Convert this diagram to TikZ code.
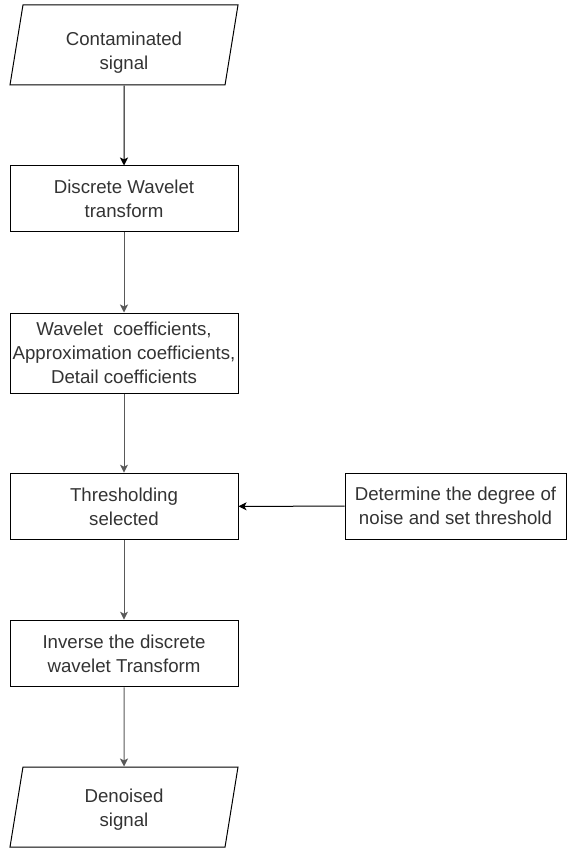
\documentclass[tikz,border=0pt]{standalone}
\usepackage{fontspec}
\setmainfont{Liberation Sans}
\usetikzlibrary{shapes.geometric,arrows.meta}

\tikzset{
	boxtext/.style={inner sep=0pt, align=center, text=black!80, font=\fontsize{14}{18}\selectfont},
	procbox/.style={boxtext, draw, line width=0.75pt, minimum width=171pt},
	iobox/.style={procbox, trapezium, trapezium left angle=72.6, trapezium right angle=107.4, trapezium stretches body, minimum height=60pt},
	flow/.style={line width=0.75pt, -{Stealth[length=6pt,width=6pt,inset=1.5pt]}},
}

\begin{document}
\begin{tikzpicture}[x=0.75pt,y=0.75pt,yscale=-1,xscale=1]
	\useasboundingbox (0,0) rectangle (567,848);
	
	%Shape: Parallelogram [id:in] 
	\node [iobox] (in) at (124,45) {\phantom{Contaminated}\\\phantom{signal}};
	% Text Node
	\node [boxtext] (intext) at (124,53) {Contaminated\\signal};
	%Shape: Rectangle [id:dwt] 
	\node [procbox, minimum height=49.5pt] (dwt) at (124,199) {Discrete Wavelet\\transform};
	%Shape: Rectangle [id:coef] 
	\node [procbox, minimum height=60pt] (coef) at (124,353) {Wavelet\ \ coefficients,\\Approximation coefficients,\\Detail coefficients};
	%Shape: Rectangle [id:thr] 
	\node [procbox, minimum height=50pt] (thr) at (124,506.5) {Thresholding\\selected};
	%Shape: Rectangle [id:noise] 
	\node [procbox, minimum width=165.75pt, minimum height=49.5pt] (noise) at (455.5,506) {Determine the degree of\\noise and set threshold};
	%Shape: Rectangle [id:idwt] 
	\node [procbox, minimum height=50pt] (idwt) at (124,653.5) {Inverse the discrete\\wavelet Transform};
	%Shape: Parallelogram [id:out] 
	\node [iobox] (out) at (124,807) {\phantom{Denoised}\\\phantom{signal}};
	% Text Node
	\node [boxtext] (outtext) at (124,810) {Denoised\\signal};
	
	%Straight Lines 
	\draw [flow] (in) -- (dwt);
	\draw [flow, draw=black!65] (dwt) -- (coef);
	\draw [flow, draw=black!65] (coef) -- (thr);
	\draw [flow] (noise) -- (thr);
	\draw [flow, draw=black!65] (thr) -- (idwt);
	\draw [flow, draw=black!65] (idwt) -- (out);
	
\end{tikzpicture}
\end{document}
